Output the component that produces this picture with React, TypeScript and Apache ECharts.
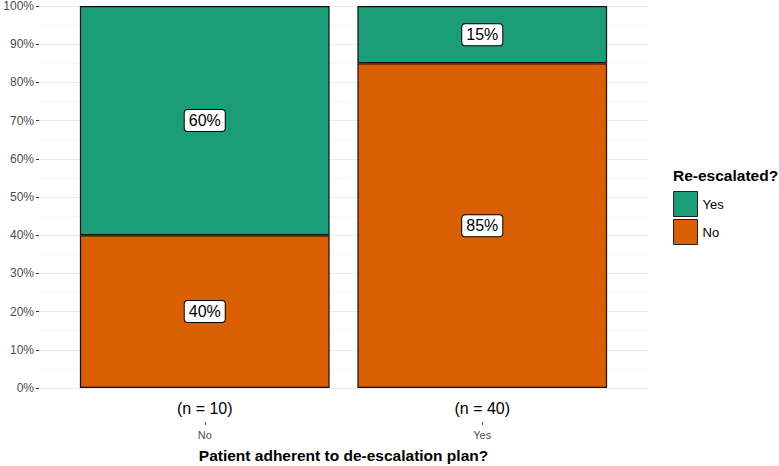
import React, { useEffect, useRef } from "react";
import * as echarts from "echarts";

const categories = ["No", "Yes"];
const nCounts = [10, 40];
const noPct = [40, 85];
const yesPct = [60, 15];
const yTicks = [0, 10, 20, 30, 40, 50, 60, 70, 80, 90, 100];

const FONT = "Liberation Sans, Helvetica, Arial, sans-serif";
const GREEN = "#1B9E77";
const ORANGE = "#D95F02";

export default function App() {
  const ref = useRef<HTMLDivElement>(null);
  useEffect(() => {
    if (!ref.current) return;
    const chart = echarts.init(ref.current, undefined, { renderer: "svg" });
    const labelStyle = {
      show: true,
      position: "inside",
      formatter: (p: any) => `${p.value}%`,
      fontFamily: FONT,
      fontSize: 16,
      color: "#000",
      backgroundColor: "#fff",
      borderColor: "#000",
      borderWidth: 1,
      borderRadius: 3,
      padding: [3, 4, 2, 4],
    };
    chart.setOption({
      animation: false,
      textStyle: { fontFamily: FONT },
      grid: [
        { left: 39, right: 131, top: 6, bottom: 78 },
        { left: 66, right: 158, top: 6, bottom: 78 },
      ],
      title: {
        text: "Re-escalated?",
        left: 673,
        top: 167,
        padding: 0,
        textStyle: { fontFamily: FONT, fontSize: 15.5, fontWeight: "bold", color: "#000" },
      },
      legend: {
        orient: "vertical",
        left: 673,
        top: 191,
        padding: 0,
        data: ["Yes", "No"],
        icon: "rect",
        itemWidth: 24,
        itemHeight: 25,
        itemGap: 2,
        textStyle: { fontFamily: FONT, fontSize: 13, color: "#000" },
        itemStyle: { borderColor: "#222", borderWidth: 1 },
      },
      xAxis: [
        {
          type: "value",
          gridIndex: 0,
          min: 0,
          max: 1,
          show: false,
        },
        {
          type: "category",
          gridIndex: 1,
          data: categories,
          axisLine: { show: false },
          axisTick: { show: false },
          axisLabel: {
            margin: 12,
            fontSize: 16,
            color: "#000",
            fontFamily: FONT,
            formatter: (_v: string, i: number) => `(n = ${nCounts[i]})`,
          },
        },
        {
          type: "category",
          gridIndex: 1,
          position: "bottom",
          offset: 34,
          data: categories,
          axisLine: { show: false },
          axisTick: {
            show: true,
            alignWithLabel: true,
            length: 3,
            lineStyle: { color: "#555", width: 1 },
          },
          axisLabel: { margin: 7, fontSize: 11, color: "#4D4D4D", fontFamily: FONT },
        },
      ],
      yAxis: [
        {
          type: "value",
          gridIndex: 0,
          min: 0,
          max: 100,
          interval: 10,
          axisLine: { show: false },
          axisTick: { show: true, length: 3, lineStyle: { color: "#333", width: 1 } },
          axisLabel: {
            margin: 5,
            fontSize: 12,
            color: "#4D4D4D",
            fontFamily: FONT,
            formatter: (v: number) => (yTicks.includes(v) ? `${v}%` : ""),
          },
          splitLine: { show: true, lineStyle: { color: "#EBEBEB", width: 1 } },
          minorTick: { show: false, splitNumber: 2 },
          minorSplitLine: { show: true, lineStyle: { color: "#F4F4F4", width: 0.8 } },
        },
        {
          type: "value",
          gridIndex: 1,
          min: 0,
          max: 100,
          show: false,
        },
      ],
      series: [
        {
          name: "No",
          type: "bar",
          xAxisIndex: 1,
          yAxisIndex: 1,
          stack: "total",
          barCategoryGap: "10%",
          data: noPct,
          itemStyle: { color: ORANGE, borderColor: "#111", borderWidth: 1.2 },
          label: labelStyle,
        },
        {
          name: "Yes",
          type: "bar",
          xAxisIndex: 1,
          yAxisIndex: 1,
          stack: "total",
          barCategoryGap: "10%",
          data: yesPct,
          itemStyle: { color: GREEN, borderColor: "#111", borderWidth: 1.2 },
          label: labelStyle,
        },
      ],
      graphic: [
        {
          type: "text",
          x: 343.5,
          y: 455,
          style: {
            text: "Patient adherent to de-escalation plan?",
            align: "center",
            verticalAlign: "middle",
            fontFamily: FONT,
            fontSize: 15.5,
            fontWeight: "bold",
            fill: "#000",
          },
        },
      ],
    });
    return () => chart.dispose();
  }, []);
  return (
    <div
      ref={ref}
      style={{ position: "absolute", left: 0, top: 0, width: 779, height: 466 }}
    />
  );
}
